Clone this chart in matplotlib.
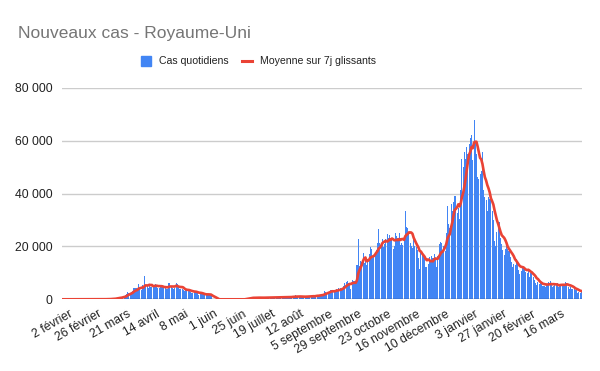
import numpy as np
import pandas as pd
import matplotlib
matplotlib.use("Agg")
import matplotlib.pyplot as plt
import matplotlib.transforms as mtransforms
from matplotlib.lines import Line2D

# Nouveaux cas quotidiens au Royaume-Uni, du 2 fevrier 2020 au 7 avril 2021
fev_2020 = [0, 0, 0, 0, 1, 0, 0, 4, 1, 0, 0, 0, 0, 0, 0, 0, 0, 0, 0, 0,
            0, 4, 0, 0, 0, 0, 3, 4]
mar_2020 = [12, 4, 11, 34, 29, 48, 45, 69, 43, 67, 48, 134, 208, 342, 251, 152,
            407, 676, 643, 714, 1035, 665, 967, 1427, 1452, 2129, 2885, 2546,
            2433, 2619, 3009]
avr_2020 = [4324, 4244, 4450, 3735, 5903, 3802, 3634, 5491, 4344, 8681, 5233,
            5288, 4342, 5252, 4603, 4617, 5599, 5525, 5850, 4676, 4301, 4451,
            4583, 5386, 4913, 4463, 4309, 3996, 4076, 6032]
mai_2020 = [6201, 4806, 4339, 3985, 4406, 6111, 5614, 4649, 3896, 3923, 3877,
            3403, 3242, 3446, 3560, 3450, 3534, 2684, 2412, 2472, 2615, 3287,
            2959, 2405, 1625, 2004, 2013, 1887, 2095, 1936, 1570]
# donnees absentes apres le 4 juin, reprise le 3 juillet
jun_2020 = [1653, 1871, 1805, 1650] + [0] * 26
jul_2020 = [0, 0, 544, 624, 516, 352, 581, 630, 642, 512, 820, 650, 530, 538,
            538, 463, 687, 827, 726, 580, 445, 560, 769, 767, 767, 747, 685,
            581, 763, 846, 880]
aou_2020 = [744, 743, 938, 670, 892, 950, 871, 758, 1062, 816, 1148, 1009, 1441,
            1012, 1040, 1077, 713, 1089, 812, 1182, 1033, 1288, 1041, 853, 1184,
            1048, 1522, 1276, 1108, 1715, 1406]
sep_2020 = [1295, 1508, 1735, 1940, 1813, 2988, 2948, 2460, 2659, 2919, 3539,
            3497, 3330, 2621, 3105, 3991, 3395, 4322, 4422, 3899, 4368, 4926,
            6178, 6634, 6874, 6042, 5693, 4044, 7143, 7108]
oct_2020 = [6914, 6968, 12872, 22961, 12594, 14542, 14162, 17540, 13864, 15166,
            12872, 13972, 17234, 19724, 18980, 15650, 16171, 16982, 18804, 21331,
            26688, 21242, 20530, 23012, 19790, 20890, 22885, 24701, 23065, 24405,
            21915]
nov_2020 = [23254, 18950, 20018, 25177, 24141, 23287, 24957, 20572, 21350, 20412,
            22950, 33470, 27301, 26860, 24962, 21363, 20051, 19609, 22915, 20252,
            19875, 18662, 15450, 11299, 18213, 17555, 16022, 15871, 12155, 12330]
dec_2020 = [13430, 16170, 14879, 16298, 15539, 17272, 14718, 12282, 16578, 20964,
            21672, 21502, 18447, 20263, 18450, 25161, 35383, 28507, 27052, 35928,
            33364, 36804, 39237, 39036, 32725, 34693, 30501, 41385, 53135, 50023,
            55892]
jan_2021 = [53285, 57725, 54990, 58784, 60916, 62322, 52618, 68053, 59937, 54940,
            46169, 45533, 47525, 48682, 55761, 41346, 38598, 37535, 33355, 38905,
            37892, 40261, 33552, 30004, 22195, 20089, 25308, 28680, 29079, 23275,
            21088]
fev_2021 = [18607, 16840, 19202, 20634, 19114, 18262, 15845, 14104, 12364, 13494,
            13013, 15144, 13308, 10972, 9765, 10625, 12718, 12057, 12027, 10406,
            9834, 10641, 8489, 9938, 9985, 8523, 7434, 6035]
mar_2021 = [5455, 6385, 5766, 6573, 6040, 5177, 5177, 4712, 5766, 5926, 6609,
            6753, 5534, 4618, 5089, 5294, 5758, 6303, 4802, 5587, 5312, 5342,
            5379, 5605, 6397, 6187, 4715, 3862, 4654, 4052, 4040]
avr_2021 = [4479, 3402, 3423, 2297, 2762, 2379, 3210]

mois = ["janvier", "février", "mars", "avril", "mai", "juin", "juillet",
        "août", "septembre", "octobre", "novembre", "décembre"]

cas = np.concatenate([fev_2020, mar_2020, avr_2020, mai_2020, jun_2020, jul_2020,
                      aou_2020, sep_2020, oct_2020, nov_2020, dec_2020, jan_2021,
                      fev_2021, mar_2021, avr_2021])
dates = pd.date_range("2020-02-02", periods=len(cas), freq="D")
moyenne = pd.Series(cas).rolling(7, min_periods=1).mean()

plt.rcParams["font.family"] = ["Liberation Sans", "DejaVu Sans"]

fig = plt.figure(figsize=(6, 3.71), dpi=100)
ax = fig.add_axes([62 / 600, 1 - 299.3 / 371, 520 / 600, 211.3 / 371])

x = np.arange(len(cas))
ax.bar(x, cas, width=0.85, color="#4285f4", linewidth=0, zorder=2)
ax.axhline(0, color="#333333", lw=0.9, zorder=2.5)
ax.plot(x, moyenne, color="#ea4335", lw=1.9, zorder=3)

ax.set_xlim(-0.5, len(cas) - 0.5)
ax.set_ylim(0, 80000)
ax.set_yticks(range(0, 80001, 20000))
ax.set_yticklabels([f"{v:,}".replace(",", " ") for v in range(0, 80001, 20000)])
ax.grid(axis="y", color="#cccccc", lw=1)
ax.set_axisbelow(True)
for s in ax.spines.values():
    s.set_visible(False)
ax.tick_params(axis="y", length=0, pad=7, labelsize=8.8, labelcolor="#222222")
ax.set_xticks([])

# etiquettes de dates toutes les 24 journees, inclinees
decalage = mtransforms.ScaledTranslation(0.09, -0.14, fig.dpi_scale_trans)
trans = mtransforms.blended_transform_factory(ax.transData, ax.transAxes) + decalage
for pos in x[::24]:
    d = dates[pos]
    ax.text(pos, 0, f"{d.day} {mois[d.month - 1]}", transform=trans, rotation=30,
            rotation_mode="anchor", ha="right", va="center", fontsize=8.8,
            color="#222222")

fig.text(18 / 600, 1 - 38 / 371, "Nouveaux cas - Royaume-Uni", fontsize=12.5,
         color="#757575", ha="left", va="baseline")

poignees = [Line2D([], [], marker="s", ls="none", color="#4285f4", markersize=7.5),
            Line2D([], [], color="#ea4335", lw=2.2)]
fig.legend(poignees, ["Cas quotidiens", "Moyenne sur 7j glissants"],
           loc="center left", bbox_to_anchor=(141 / 600, 1 - 61.5 / 371), ncol=2,
           frameon=False, fontsize=7.6, handlelength=0.95, handletextpad=0.75,
           columnspacing=1.3, borderpad=0, borderaxespad=0, labelcolor="#222222")

fig.savefig("out.png", dpi=100)
